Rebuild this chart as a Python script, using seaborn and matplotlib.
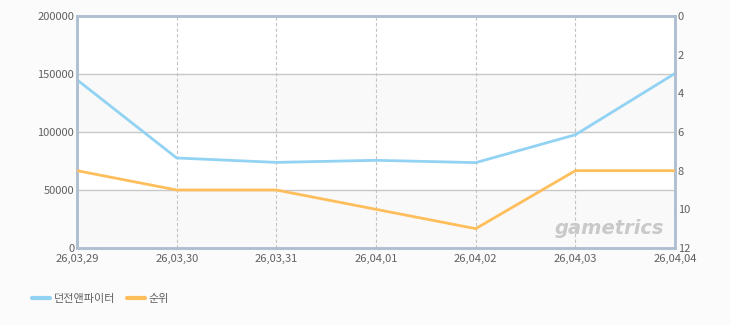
import matplotlib
matplotlib.use("Agg")
import matplotlib.pyplot as plt
import seaborn as sns
import pandas as pd
from matplotlib.lines import Line2D

dates = ["26,03,29", "26,03,30", "26,03,31", "26,04,01", "26,04,02", "26,04,03", "26,04,04"]
users = [145000, 77600, 73800, 75600, 73600, 97600, 150500]
rank = [8, 9, 9, 10, 11, 8, 8]
series_names = ["던전앤파이터", "순위"]
left_ticks = [0, 50000, 100000, 150000, 200000]
right_ticks = [0, 2, 4, 6, 8, 10, 12]

sns.set_theme(style="white")
plt.rcParams['font.family'] = ['Noto Sans CJK KR', 'DejaVu Sans']

blue = "#92d2f3"
orange = "#ffbe5c"
txt = "#606060"

df = pd.DataFrame({"x": list(range(len(dates))), "users": users, "rank": rank})

fig = plt.figure(figsize=(7.3, 3.25), dpi=100)
fig.patch.set_facecolor("#fbfbfb")
ax = fig.add_axes([0.1055, 0.2369, 0.8192, 0.7139])
ax.set_facecolor("white")

# alternating bands
for i in range(len(left_ticks) - 1):
    if i % 2 == 0:
        ax.axhspan(left_ticks[i], left_ticks[i + 1], color="#f9f9f9", zorder=0, lw=0)

sns.lineplot(data=df, x="x", y="users", ax=ax, color=blue, linewidth=2, zorder=5)
ax.set_xlim(0, len(dates) - 1)
ax.set_ylim(0, 200000)
ax.set_yticks(left_ticks)
ax.set_yticklabels([str(v) for v in left_ticks])
ax.set_xticks(range(len(dates)))
ax.set_xticklabels(dates)
for y in left_ticks[1:-1]:
    ax.axhline(y, color="#c8c8c8", lw=1, zorder=1)
for x in range(1, len(dates) - 1):
    ax.axvline(x, color="#c4c4c4", lw=0.8, ls=(0, (3, 2)), zorder=1)

ax2 = ax.twinx()
sns.lineplot(data=df, x="x", y="rank", ax=ax2, color=orange, linewidth=2, zorder=5)
ax2.set_ylim(12, 0)
ax2.set_yticks(right_ticks)
ax2.set_xlim(0, len(dates) - 1)

for a in (ax, ax2):
    a.set_xlabel("")
    a.set_ylabel("")
    a.tick_params(length=0, labelsize=8, colors=txt, pad=2)
    for s in a.spines.values():
        s.set_color("#aebfd2")
        s.set_linewidth(1.8)
ax.tick_params(axis="x", pad=4)

ax.text(0.982, 0.045, "gametrics", transform=ax.transAxes, fontsize=14,
        fontstyle="italic", fontweight="bold", color="#c9c9c9",
        family="DejaVu Sans", zorder=2, ha="right", va="bottom")

handles = [Line2D([0], [0], color=blue, lw=3), Line2D([0], [0], color=orange, lw=3)]
leg = fig.legend(handles, series_names, loc="center left", bbox_to_anchor=(0.03, 0.08),
                 ncol=2, frameon=False, fontsize=8, handlelength=1.6, handletextpad=0.4,
                 columnspacing=1.0)
for t in leg.get_texts():
    t.set_color(txt)

fig.savefig("out.png", dpi=100, facecolor=fig.get_facecolor())
